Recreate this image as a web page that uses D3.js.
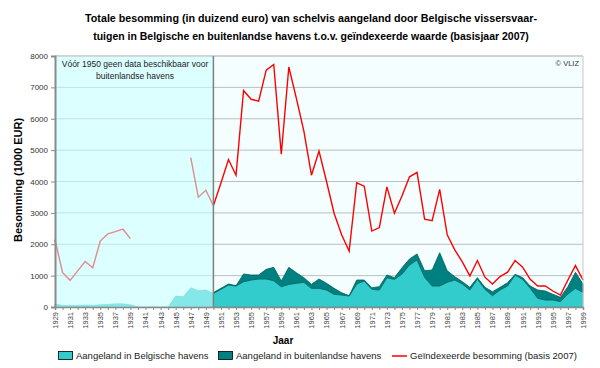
<!DOCTYPE html>
<html><head><meta charset="utf-8">
<script src="https://cdn.jsdelivr.net/npm/d3@7/dist/d3.min.js"></script>
<style>body{margin:0;background:#fff}svg{display:block}</style>
</head><body><svg id="c" width="600" height="368"></svg>
<script>
const years = d3.range(1929, 2000);
const belgian = [100,50,50,50,60,50,70,80,100,100,70,
  0,0,0,0,0,
  350,330,615,520,540,
  430,563,701,669,807,860,892,892,838,647,722,755,787,595,595,542,404,382,350,733,829,563,542,934,882,
  1050,1338,1498,945,669,669,787,860,733,542,892,563,361,542,669,1020,882,595,276,223,223,170,414,595,467];
const foreign = [null,null,null,null,null,null,null,null,null,null,null,
  null,null,null,null,null,
  null,null,null,null,null,
  30,32,32,10,245,160,128,308,427,182,543,338,147,127,297,213,191,74,11,127,31,53,106,86,52,
  200,192,192,212,511,1062,370,106,74,85,42,64,127,85,106,21,52,74,266,287,181,138,234,510,266];
const indexed = [2150,1100,850,1150,1450,1250,2100,2330,2400,2480,2180,
  null,null,null,null,null,null,null,
  4760,3500,3720,
  3230,3950,4700,4200,6900,6620,6560,7550,7730,4870,7650,6650,5600,4200,4970,4000,2990,2300,1780,3960,3850,2420,2530,3830,2990,
  3540,4150,4290,2800,2750,3750,2300,1820,1440,990,1480,950,730,970,1110,1480,1270,880,670,670,510,380,860,1320,860];
const yTicks = [0,1000,2000,3000,4000,5000,6000,7000,8000];
const splitYear = 1950;
const titleLines = ["Totale besomming (in duizend euro) van schelvis aangeland door Belgische vissersvaar-",
  "tuigen in Belgische en buitenlandse havens t.o.v. geïndexeerde waarde (basisjaar 2007)"];
const legendItems = ["Aangeland in Belgische havens","Aangeland in buitenlandse havens","Geïndexeerde besomming (basis 2007)"];

const svg = d3.select("#c");
const L=55, R=583, T=56, B=307;
const x = d3.scaleLinear().domain([1929,1999]).range([L,R]);
const y = d3.scaleLinear().domain([0,8000]).range([B,T]);
const font = "'Liberation Sans', Arial, sans-serif";

// title
titleLines.forEach((t,i)=>{
  const el = svg.append("text").attr("x",311).attr("y",22+i*18).attr("text-anchor","middle")
    .attr("font-family",font).attr("font-weight","bold").attr("font-size",12).attr("fill","#000").text(t);
  const w = el.node().getComputedTextLength();
  const target = i===0?452:436;
  el.attr("font-size", 12*target/w);
});

// backgrounds
svg.append("rect").attr("x",L).attr("y",T).attr("width",R-L).attr("height",B-T).attr("fill","#f4fefe");
// gridlines
svg.append("g").selectAll("line").data(yTicks.slice(1)).join("line")
  .attr("x1",L).attr("x2",R).attr("y1",d=>y(d)).attr("y2",d=>y(d))
  .attr("stroke","#b8c0c0").attr("stroke-width",1);

const data = years.map((yr,i)=>({yr, b: belgian[i], f: foreign[i], v: indexed[i]}));

svg.append("path").datum(data)
  .attr("d", d3.area().x(d=>x(d.yr)).y0(y(0)).y1(d=>y(d.b)))
  .attr("fill","#33cccc").attr("stroke","#22aaaa").attr("stroke-width",0.6);
svg.append("path").datum(data.filter(d=>d.f!=null))
  .attr("d", d3.area().x(d=>x(d.yr)).y0(d=>y(d.b)).y1(d=>y(d.b+d.f)))
  .attr("fill","#008080").attr("stroke","#006060").attr("stroke-width",0.8);
svg.append("path").datum(data)
  .attr("d", d3.line().defined(d=>d.v!=null).x(d=>x(d.yr)).y(d=>y(d.v)))
  .attr("fill","none").attr("stroke","#ff0000").attr("stroke-width",1.4);

// overlay for pre-1950
svg.append("rect").attr("x",L).attr("y",T).attr("width",x(splitYear)-L).attr("height",B-T)
  .attr("fill","#c8ffff").attr("opacity",0.55);

// border
svg.append("path").attr("d",`M${L},${T}H${R}V${B}`).attr("fill","none").attr("stroke","#c8c8c8");
svg.append("line").attr("x1",x(splitYear)).attr("x2",x(splitYear)).attr("y1",T).attr("y2",B)
  .attr("stroke","#808080").attr("stroke-width",1.5);

// axes
const ya = svg.append("g").attr("transform",`translate(${L},0)`)
  .call(d3.axisLeft(y).tickValues(yTicks).tickSize(4).tickFormat(d3.format("d")));
ya.select(".domain").attr("stroke","#8a8a8a").attr("stroke-width",2);
ya.selectAll(".tick line").attr("stroke","#8a8a8a");
ya.selectAll("text").attr("font-family",font).attr("font-size",8).attr("fill","#333");

const xa = svg.append("g").attr("transform",`translate(0,${B})`)
  .call(d3.axisBottom(x).tickValues(years).tickSize(3).tickFormat(d=> (d-1929)%2===0 ? String(d) : ""));
xa.select(".domain").attr("stroke","#8a8a8a").attr("stroke-width",1.5);
xa.selectAll(".tick line").attr("stroke","#8a8a8a");
xa.selectAll("text").attr("font-family",font).attr("font-size",7.5).attr("fill","#444")
  .attr("transform","rotate(-90)").attr("text-anchor","end").attr("x",-5).attr("y",0).attr("dy","0.32em");

// axis titles
svg.append("text").attr("transform","translate(22,180) rotate(-90)").attr("text-anchor","middle")
  .attr("font-family",font).attr("font-weight","bold").attr("font-size",11).text("Besomming (1000 EUR)");
svg.append("text").attr("x",283).attr("y",344).attr("text-anchor","middle")
  .attr("font-family",font).attr("font-weight","bold").attr("font-size",10).text("Jaar");

// annotations
svg.append("text").attr("x",135).attr("y",67).attr("text-anchor","middle")
  .attr("font-family",font).attr("font-size",8.5).attr("fill","#222").text("Vóór 1950 geen data beschikbaar voor");
svg.append("text").attr("x",135).attr("y",79).attr("text-anchor","middle")
  .attr("font-family",font).attr("font-size",8.5).attr("fill","#222").text("buitenlandse havens");
svg.append("text").attr("x",579).attr("y",66).attr("text-anchor","end")
  .attr("font-family",font).attr("font-size",7.5).attr("fill","#333").text("© VLIZ");

// legend
const lg = svg.append("g");
const ly = 356;
lg.append("rect").attr("x",58.5).attr("y",ly-4.5).attr("width",14).attr("height",8).attr("fill","#33cccc").attr("stroke","#000").attr("stroke-width",0.8);
lg.append("text").attr("x",76).attr("y",ly+3).attr("font-family",font).attr("font-size",9.5).attr("fill","#222").text(legendItems[0]);
lg.append("rect").attr("x",218.5).attr("y",ly-4.5).attr("width",14).attr("height",8).attr("fill","#008080").attr("stroke","#000").attr("stroke-width",0.8);
lg.append("text").attr("x",236).attr("y",ly+3).attr("font-family",font).attr("font-size",9.5).attr("fill","#222").text(legendItems[1]);
lg.append("line").attr("x1",392).attr("x2",407).attr("y1",ly).attr("y2",ly).attr("stroke","#ff0000").attr("stroke-width",1.5);
lg.append("text").attr("x",410).attr("y",ly+3).attr("font-family",font).attr("font-size",9.5).attr("fill","#222").text(legendItems[2]);
</script></body></html>
